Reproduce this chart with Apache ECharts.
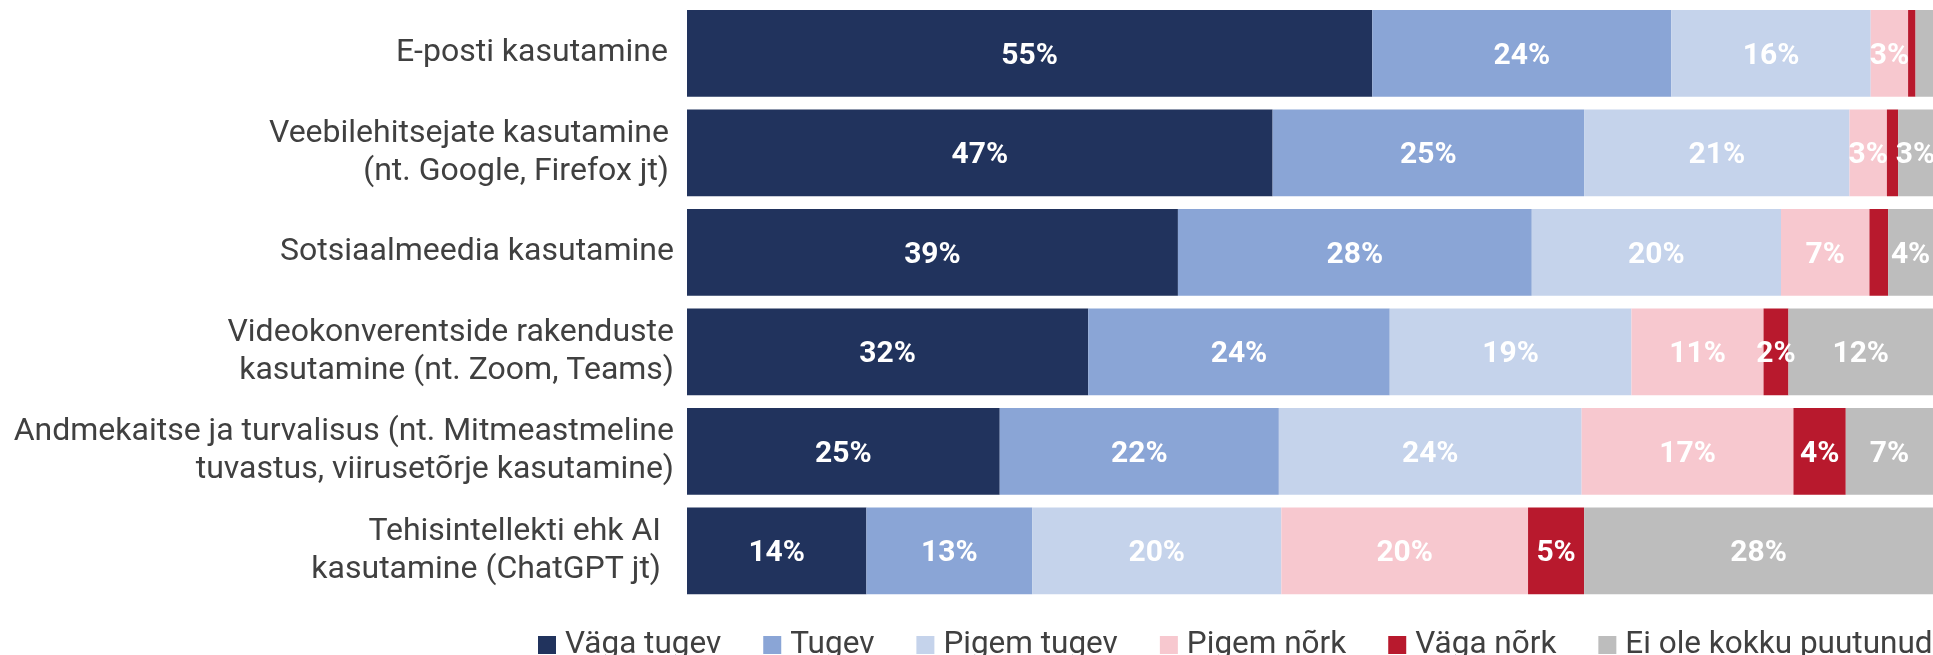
<!DOCTYPE html>
<html><head><meta charset="utf-8">
<script src="https://cdn.jsdelivr.net/npm/echarts@6/dist/echarts.min.js"></script>
<style>html,body{margin:0;padding:0;background:#fff}#c{width:1933px;height:655px}</style>
</head><body><div id="c"></div>
<script>
const categories = [
  'E-posti kasutamine',
  'Veebilehitsejate kasutamine\n(nt. Google, Firefox jt)',
  'Sotsiaalmeedia kasutamine',
  'Videokonverentside rakenduste\nkasutamine (nt. Zoom, Teams)',
  'Andmekaitse ja turvalisus (nt. Mitmeastmeline\ntuvastus, viirusetõrje kasutamine)',
  'Tehisintellekti ehk AI\nkasutamine (ChatGPT jt)'
];
const seriesNames = ['Väga tugev','Tugev','Pigem tugev','Pigem nõrk','Väga nõrk','Ei ole kokku puutunud'];
const vagaTugev   = [55, 47, 39.4, 32.2, 25.1, 14.4];
const tugev       = [24, 25, 28.4, 24.2, 22.4, 13.3];
const pigemTugev  = [16, 21.3, 20, 19.4, 24.3, 20];
const pigemNork   = [3, 3, 7.1, 10.6, 17, 19.8];
const vagaNork    = [0.6, 0.9, 1.5, 2, 4.2, 4.5];
const eiOle       = [1.4, 2.8, 3.6, 11.6, 7, 28];
const colors = ['#21335d','#8aa5d6','#c5d3eb','#f7c8cf','#b8192d','#bdbdbd'];
const allData = [vagaTugev, tugev, pigemTugev, pigemNork, vagaNork, eiOle];

// per-label padding [top, right] to fine tune placement
const labelPad = [[7,6],[0,5],[7,0],[0,0],[0,0],[0,13]];

const chart = echarts.init(document.getElementById('c'), null, {renderer:'canvas'});
const FONT = 'Roboto';
chart.setOption({
  animation:false,
  color: colors,
  grid:{left:687, right:0, top:3.6, height:597, containLabel:false},
  xAxis:{type:'value', min:0, max:100, show:false},
  yAxis:{type:'category', inverse:true,
    data:categories.map((c,i)=>({value:c, textStyle:{padding:[labelPad[i][0],labelPad[i][1],0,0]}})),
    axisLine:{show:false}, axisTick:{show:false},
    axisLabel:{margin:13, color:'#404040', fontFamily:FONT, fontSize:32, lineHeight:38, align:'right'}},
  legend:{left:538, top:629, padding:0, itemWidth:18, itemHeight:18, itemGap:42, icon:'rect',
    textStyle:{color:'#404040', fontFamily:FONT, fontSize:31.5, padding:[0,0,0,4]},
    data:seriesNames},
  series: seriesNames.map((n,i)=>({
    name:n, type:'bar', stack:'s', barCategoryGap:'12.9%',
    data: allData[i],
    itemStyle:{color:colors[i]},
    label:{show:true, position:'inside', offset:[0,3], color:'#fff', fontFamily:FONT, fontWeight:'bold', fontSize:30,
      formatter:p=> p.value < 1.8 ? '' : Math.round(p.value)+'%'}
  }))
});
</script></body></html>
